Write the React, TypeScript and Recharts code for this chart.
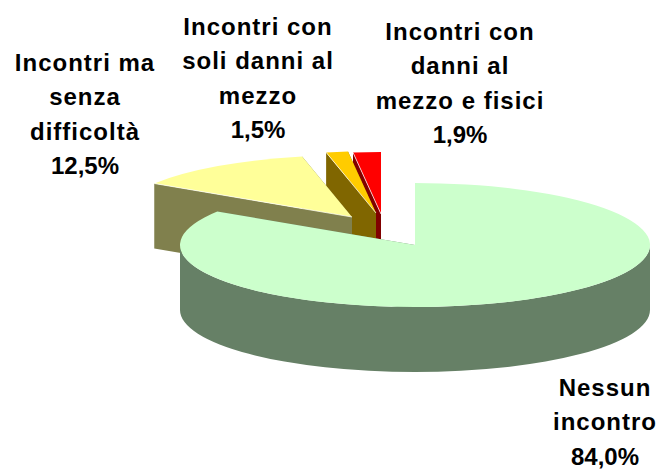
import React from "react";
import { PieChart, Pie, Cell } from "recharts";

// Painted back to front, counter-clockwise from 12 o'clock.
const categories = [
  "Incontri con danni al mezzo e fisici",
  "Incontri con soli danni al mezzo",
  "Incontri ma senza difficoltà",
  "Nessun incontro",
];
const values = [1.9, 1.5, 12.5, 84.0];
const labelLines = [
  ["Incontri con", "danni al", "mezzo e fisici"],
  ["Incontri con", "soli danni al", "mezzo"],
  ["Incontri ma", "senza", "difficoltà"],
  ["Nessun", "incontro"],
];
const topColors = ["#FF0000", "#FFCC00", "#FFFF99", "#CCFFCC"];
const sideColors = ["#800000", "#806600", "#80804D", "#668066"];
const explodeX = [-34, -39, -63, 0];
const explodeY = [-31, -32, -28, 0];
const labelX = [460, 258, 85, 605];
const labelY = [40, 35, 71, 396];

const CX = 415;
const CY = 245;
const RX = 235;
const RY = 62;
const DEPTH = 65;
const LINE = 34.3;

const rows = categories.map((name, i) => ({ name, value: values[i], idx: i }));

const pt = (cx: number, cy: number, a: number) => {
  const r = (a * Math.PI) / 180;
  return [cx + RX * Math.cos(r), cy - RY * Math.sin(r)];
};

function Slice3D(props: any) {
  const { cx, cy, startAngle, endAngle, payload } = props;
  const i = payload?.idx ?? props.idx ?? props.index ?? 0;
  const x = cx + explodeX[i];
  const y = cy + explodeY[i];
  const [a, b] = [Math.min(startAngle, endAngle), Math.max(startAngle, endAngle)];
  const p0 = pt(x, y, a);
  const p1 = pt(x, y, b);
  const large = b - a > 180 ? 1 : 0;
  const top = `M${x},${y}L${p0[0]},${p0[1]}A${RX},${RY} 0 ${large} 0 ${p1[0]},${p1[1]}Z`;
  const edge = (p: number[]) =>
    `M${x},${y}L${p[0]},${p[1]}L${p[0]},${p[1] + DEPTH}L${x},${y + DEPTH}Z`;

  const bands: string[] = [];
  for (const [lo, hi] of [[180, 360], [540, 720]]) {
    const s = Math.max(a, lo);
    const e = Math.min(b, hi);
    if (e > s) {
      const q0 = pt(x, y, s);
      const q1 = pt(x, y, e);
      const big = e - s > 180 ? 1 : 0;
      bands.push(
        `M${q0[0]},${q0[1]}A${RX},${RY} 0 ${big} 0 ${q1[0]},${q1[1]}L${q1[0]},${q1[1] + DEPTH}A${RX},${RY} 0 ${big} 1 ${q0[0]},${q0[1] + DEPTH}Z`
      );
    }
  }
  const side = sideColors[i];
  return (
    <g>
      <path d={edge(p0)} fill={side} stroke="none" />
      <path d={edge(p1)} fill={side} stroke="none" />
      {bands.map((d, k) => (
        <path key={k} d={d} fill={side} stroke="none" />
      ))}
      <path d={top} fill={topColors[i]} stroke="none" />
      {i < 3 && (
        <path d={`M${x},${y}L${p1[0]},${p1[1]}`} fill="none" stroke="#fff" strokeWidth={0.7} />
      )}
    </g>
  );
}

function SliceLabel(props: any) {
  const i = props.payload?.idx ?? props.index ?? 0;
  const percent = values[i].toFixed(1).replace(".", ",") + "%";
  const lines = [...labelLines[i]];
  return (
    <text
      x={labelX[i]}
      y={labelY[i]}
      textAnchor="middle"
      fontFamily="'Liberation Sans', Arial, sans-serif"
      fontWeight="bold"
      fontSize={24}
      fill="#000"
    >
      {lines.map((t, k) => (
        <tspan key={k} x={labelX[i]} y={labelY[i] + k * LINE} letterSpacing={1}>
          {t}
        </tspan>
      ))}
      <tspan x={labelX[i]} y={labelY[i] + lines.length * LINE}>
        {percent}
      </tspan>
    </text>
  );
}

export default function App() {
  return (
    <div style={{ position: "absolute", left: 0, top: 0, width: 658, height: 470, background: "#fff" }}>
      <PieChart width={658} height={470} margin={{ top: 0, right: 0, bottom: 0, left: 0 }}>
        <Pie
          data={rows}
          dataKey="value"
          nameKey="name"
          cx={CX}
          cy={CY}
          innerRadius={0}
          outerRadius={RX}
          startAngle={90}
          endAngle={450}
          paddingAngle={0}
          stroke="none"
          isAnimationActive={false}
          shape={Slice3D}
          label={SliceLabel}
          labelLine={false}
        >
          {rows.map((r, i) => (
            <Cell key={r.name} fill={topColors[i]} />
          ))}
        </Pie>
      </PieChart>
    </div>
  );
}
